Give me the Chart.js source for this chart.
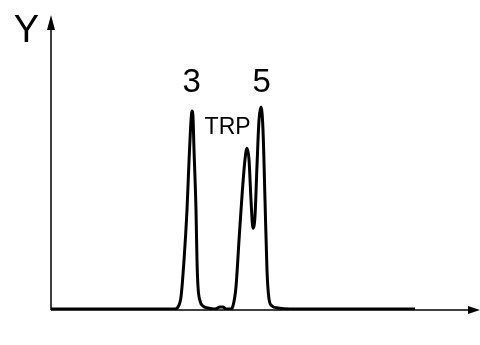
<!DOCTYPE html>
<html>
<head>
<meta charset="utf-8">
<script src="https://cdn.jsdelivr.net/npm/chart.js@4/dist/chart.umd.min.js"></script>
<style>
  html, body { margin: 0; padding: 0; background: #fff; }
  #wrap { width: 480px; height: 345px; }
</style>
</head>
<body>
<div id="wrap"><canvas id="chrom"></canvas></div>
<script>
// retention time (arbitrary units) and detector signal
const times = [0, 6.2, 6.35, 6.5, 6.65, 6.8, 6.9, 7.0, 7.05, 7.1, 7.15, 7.25, 7.3, 7.35, 7.45, 7.6, 7.85, 8.2,
  8.45, 8.6, 8.75, 9.0, 9.1, 9.25, 9.4, 9.55, 9.7, 9.8, 9.9, 10.0, 10.1, 10.2, 10.3, 10.4, 10.5,
  10.6, 10.7, 10.8, 10.9, 11.05, 11.35, 11.95, 18.2];
const signal = [0, 0, 1, 6, 24, 49, 73, 93, 98, 95, 79, 49, 24, 11, 4, 1.5, 0.5, 0,
  1, 1, 0, 0, 1.5, 11, 34, 56, 74, 79.6, 74, 54, 40, 46, 71, 93.5, 100,
  88.5, 54, 19, 5, 1.5, 0.5, 0, 0];

// peak annotations (text baseline sits at the given signal value)
const peakLabels = ['3', 'TRP', '5'];
const peakTimes = [7.03, 8.83, 10.53];
const peakLabelValues = [107.4, 86.6, 107.5];
const peakFonts = [33, 23, 33];

const axisTitle = 'Y';

const axesPlugin = {
  id: 'axesArrows',
  afterDraw(chart) {
    const ctx = chart.ctx;
    const a = chart.chartArea;
    const xs = chart.scales.x, ys = chart.scales.y;
    ctx.save();
    ctx.strokeStyle = '#000';
    ctx.fillStyle = '#000';
    ctx.lineWidth = 1.5;
    // y axis
    ctx.beginPath();
    ctx.moveTo(a.left, a.bottom);
    ctx.lineTo(a.left, a.top + 8);
    ctx.stroke();
    ctx.beginPath();
    ctx.moveTo(a.left, a.top);
    ctx.lineTo(a.left - 4, a.top + 15);
    ctx.lineTo(a.left + 4, a.top + 15);
    ctx.closePath();
    ctx.fill();
    // x axis
    ctx.beginPath();
    ctx.moveTo(a.left, a.bottom);
    ctx.lineTo(a.right - 8, a.bottom);
    ctx.stroke();
    ctx.beginPath();
    ctx.moveTo(a.right, a.bottom);
    ctx.lineTo(a.right - 12, a.bottom - 4);
    ctx.lineTo(a.right - 12, a.bottom + 4);
    ctx.closePath();
    ctx.fill();

    ctx.textAlign = 'center';
    ctx.textBaseline = 'alphabetic';
    ctx.font = '38px "Liberation Sans", Arial, sans-serif';
    ctx.fillText(axisTitle, 26.5, 41.5);

    peakLabels.forEach((lab, i) => {
      ctx.font = peakFonts[i] + 'px "Liberation Sans", Arial, sans-serif';
      ctx.fillText(lab, xs.getPixelForValue(peakTimes[i]), ys.getPixelForValue(peakLabelValues[i]));
    });
    ctx.restore();
  }
};

new Chart(document.getElementById('chrom'), {
  type: 'line',
  data: {
    datasets: [{
      data: times.map((t, i) => ({ x: t, y: signal[i] })),
      borderColor: '#000',
      borderWidth: 3,
      pointRadius: 0,
      cubicInterpolationMode: 'monotone',
      fill: false
    }]
  },
  options: {
    responsive: true,
    maintainAspectRatio: false,
    animation: false,
    layout: { padding: { left: 51, top: 15, right: 0, bottom: 35 } },
    plugins: { legend: { display: false }, tooltip: { enabled: false } },
    scales: {
      x: { type: 'linear', display: false, min: 0, max: 21.45 },
      y: { display: false, min: -0.5, max: 145.5 }
    }
  },
  plugins: [axesPlugin]
});
</script>
</body>
</html>
